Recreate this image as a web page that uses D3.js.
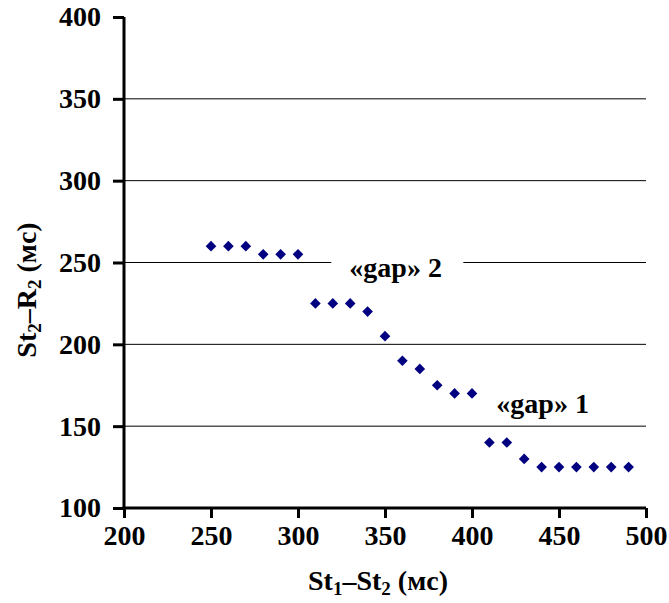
<!DOCTYPE html>
<html>
<head>
<meta charset="utf-8">
<script src="https://cdn.jsdelivr.net/npm/d3@7"></script>
<style>
  body { margin: 0; background: #fff; }
  text { font-family: "Liberation Serif", "Times New Roman", serif; font-weight: bold; }
</style>
</head>
<body>
<svg id="chart" width="669" height="603"></svg>
<script>
// intervals St1-St2 (ms) and measured St2-R2 (ms)
const st1st2 = [250, 260, 270, 280, 290, 300, 310, 320, 330, 340, 350, 360, 370, 380, 390, 400, 410, 420, 430, 440, 450, 460, 470, 480, 490];
const st2r2 = [260, 260, 260, 255, 255, 255, 225, 225, 225, 220, 205, 190, 185, 175, 170, 170, 140, 140, 130, 125, 125, 125, 125, 125, 125];
const xTicks = [200, 250, 300, 350, 400, 450, 500];
const yTicks = [100, 150, 200, 250, 300, 350, 400];
const gridValues = [150, 200, 250, 300, 350];
// label text, anchor (data units), and whether it cuts the grid line
const notes = [
  { text: "«gap» 2", x: 329.5, y: 241, box: true },
  { text: "«gap» 1", x: 414, y: 158, box: false }
];

const svg = d3.select("#chart");
const mLeft = 124, mRight = 646, mTop = 17, mBottom = 508;

const x = d3.scaleLinear().domain([200, 500]).range([mLeft, mRight]);
const y = d3.scaleLinear().domain([100, 400]).range([mBottom, mTop]);

// grid lines
svg.append("g")
  .selectAll("line")
  .data(gridValues)
  .enter()
  .append("line")
  .attr("x1", mLeft)
  .attr("x2", mRight)
  .attr("y1", d => y(d))
  .attr("y2", d => y(d))
  .attr("stroke", "#000")
  .attr("stroke-width", 1);

// labels, the second one sits on a white box over the grid
const note = svg.append("g")
  .selectAll("g")
  .data(notes)
  .enter()
  .append("g");

note.filter(d => d.box).append("rect")
  .attr("x", d => x(d.x) - 18)
  .attr("y", d => y(d.y) - 24)
  .attr("width", 132)
  .attr("height", 30)
  .attr("fill", "#fff");

note.append("text")
  .attr("x", d => x(d.x))
  .attr("y", d => y(d.y))
  .attr("font-size", 28)
  .text(d => d.text);

// axes
const xAxis = svg.append("g")
  .attr("transform", `translate(0, ${mBottom})`)
  .call(d3.axisBottom(x).tickValues(xTicks).tickSize(10).tickPadding(7).tickSizeOuter(0));

const yAxis = svg.append("g")
  .attr("transform", `translate(${mLeft}, 0)`)
  .call(d3.axisLeft(y).tickValues(yTicks).tickSize(11).tickPadding(12).tickSizeOuter(0));

[xAxis, yAxis].forEach(a => {
  a.attr("font-family", "'Liberation Serif', serif")
    .attr("font-size", 28)
    .attr("font-weight", "bold");
  a.select(".domain").attr("stroke", "#000").attr("stroke-width", 3);
  a.selectAll(".tick line").attr("stroke", "#000").attr("stroke-width", 3);
  a.selectAll(".tick text").attr("fill", "#000");
});

// extend domains so the corners meet
xAxis.select(".domain").attr("d", `M${mLeft - 1.5},0H${mRight}`);
yAxis.select(".domain").attr("d", `M0,${mTop}V${mBottom + 1.5}`);

// points
svg.append("g")
  .selectAll("path")
  .data(st1st2)
  .enter()
  .append("path")
  .attr("d", d3.symbol().type(d3.symbolDiamond2).size(72))
  .attr("transform", (d, i) => `translate(${x(d)}, ${y(st2r2[i])})`)
  .attr("fill", "#000080");

// axis titles
const xt = svg.append("text")
  .attr("x", 378)
  .attr("y", 590)
  .attr("text-anchor", "middle")
  .attr("font-size", 28);
xt.append("tspan").text("St");
xt.append("tspan").attr("font-size", 19).attr("dy", 5).text("1");
xt.append("tspan").attr("dy", -5).text("–St");
xt.append("tspan").attr("font-size", 19).attr("dy", 5).text("2");
xt.append("tspan").attr("dy", -5).text(" (мс)");

const yt = svg.append("text")
  .attr("transform", `translate(36, 290) rotate(-90)`)
  .attr("text-anchor", "middle")
  .attr("font-size", 28);
yt.append("tspan").text("St");
yt.append("tspan").attr("font-size", 19).attr("dy", 5).text("2");
yt.append("tspan").attr("dy", -5).text("–R");
yt.append("tspan").attr("font-size", 19).attr("dy", 5).text("2");
yt.append("tspan").attr("dy", -5).text(" (мс)");
</script>
</body>
</html>
